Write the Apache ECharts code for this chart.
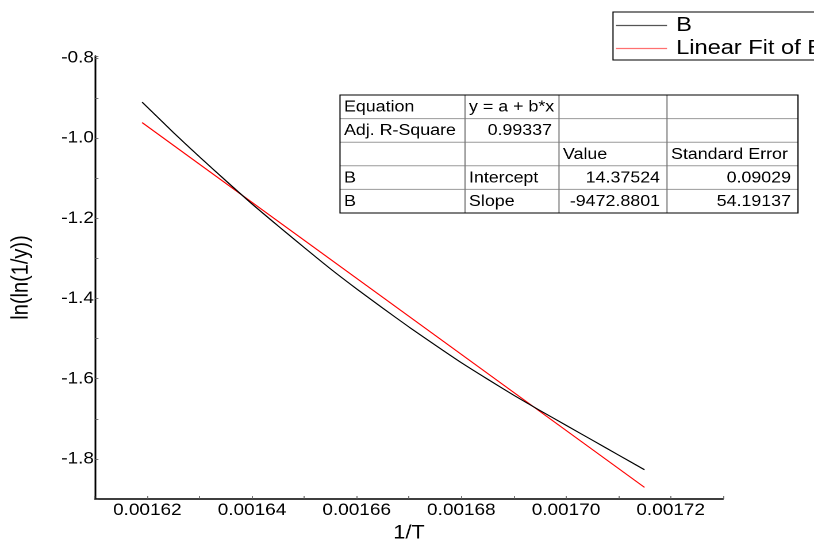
<!DOCTYPE html>
<html>
<head>
<meta charset="utf-8">
<script src="https://cdn.jsdelivr.net/npm/echarts@6.0.0/dist/echarts.min.js"></script>
<style>
html,body{margin:0;padding:0;background:#fff;overflow:hidden;width:814px;height:542px;}
#chart{width:708px;height:542px;transform:scaleX(1.1497);transform-origin:0 0;}
</style>
</head>
<body>
<div id="chart"></div>
<script>
// ---- data ----
const xB = [0.001619, 0.001625, 0.00163, 0.001635, 0.00164, 0.001645, 0.00165, 0.001655, 0.00166, 0.001665,
            0.00167, 0.001675, 0.00168, 0.001685, 0.00169, 0.001695, 0.0017, 0.001705, 0.00171, 0.001715];
const yB = [-0.910, -0.986, -1.047, -1.106, -1.164, -1.219, -1.273, -1.326, -1.376, -1.424,
            -1.471, -1.516, -1.560, -1.601, -1.641, -1.679, -1.716, -1.753, -1.790, -1.827];
const xFit = [0.001619, 0.001715];
const yFit = [-0.961, -1.871];
const xTickLabels = ['0.00162', '0.00164', '0.00166', '0.00168', '0.00170', '0.00172'];
const yTickLabels = ['-0.8', '-1.0', '-1.2', '-1.4', '-1.6', '-1.8'];
const seriesNames = ['B', 'Linear Fit of B'];
const tableRows = [
  ['Equation', 'y = a + b*x', '', ''],
  ['Adj. R-Square', '0.99337', '', ''],
  ['', '', 'Value', 'Standard Error'],
  ['B', 'Intercept', '14.37524', '0.09029'],
  ['B', 'Slope', '-9472.8801', '54.19137']
];

// ---- layout (CSS px are divided by the horizontal stretch S) ----
const S = 814 / 708;
const FONT = "'Liberation Sans', Arial, sans-serif";
const colEdges = [340, 465, 559, 667, 798].map(v => v / S);
const tableTop = 95, rowH = 23.6;

const graphics = [];
// legend frame (runs off the right edge, as in the reference)
graphics.push({type: 'rect', shape: {x: 613 / S, y: 12, width: 300, height: 48},
  style: {fill: '#fff', stroke: '#000', lineWidth: 1}, z: 1});
const tW = colEdges[4] - colEdges[0], tH = rowH * tableRows.length;
graphics.push({type: 'rect', shape: {x: colEdges[0], y: tableTop, width: tW, height: tH},
  style: {fill: '#fff', stroke: null}, z: 10});
for (let r = 1; r < tableRows.length; r++) {
  graphics.push({type: 'line', shape: {x1: colEdges[0], y1: tableTop + r * rowH, x2: colEdges[4], y2: tableTop + r * rowH},
    style: {stroke: '#9a9a9a', lineWidth: 1}, z: 11});
}
for (let c = 1; c < 4; c++) {
  graphics.push({type: 'line', shape: {x1: colEdges[c], y1: tableTop, x2: colEdges[c], y2: tableTop + tH},
    style: {stroke: '#777', lineWidth: 1}, z: 11});
}
graphics.push({type: 'rect', shape: {x: colEdges[0], y: tableTop, width: tW, height: tH},
  style: {fill: null, stroke: '#000', lineWidth: 1}, z: 12});
const isNum = s => /^-?[\d.]+$/.test(s);
tableRows.forEach((row, r) => {
  row.forEach((txt, c) => {
    if (!txt) return;
    const right = isNum(txt);
    graphics.push({type: 'text', z: 13,
      style: {text: txt, x: right ? colEdges[c + 1] - 7 / S : colEdges[c] + 4 / S,
        y: tableTop + r * rowH + rowH / 2 + 0.5, align: right ? 'right' : 'left', verticalAlign: 'middle',
        font: '15.5px ' + FONT, fill: '#000'}});
  });
});

const chart = echarts.init(document.getElementById('chart'), null, {devicePixelRatio: 2});
chart.setOption({
  backgroundColor: '#fff',
  animation: false,
  grid: {left: 95 / S, right: 708 - 723 / S, top: 56, bottom: 43, outerBoundsMode: 'none'},
  xAxis: {
    type: 'value', min: 0.00161, max: 0.00173, interval: 0.00001,
    name: '1/T', nameLocation: 'middle', nameGap: 20,
    nameTextStyle: {fontFamily: FONT, fontSize: 19, color: '#000'},
    axisLine: {show: true, onZero: false, lineStyle: {color: '#000', width: 1.5}},
    axisTick: {show: true, inside: true, length: 3, lineStyle: {color: '#555', width: 0.8}},
    axisLabel: {
      color: '#000', fontFamily: FONT, fontSize: 16.5, margin: 3,
      formatter: v => xTickLabels.find(t => Math.abs(parseFloat(t) - v) < 1e-9) || ''
    },
    splitLine: {show: false}
  },
  yAxis: {
    type: 'value', min: -1.9, max: -0.795, interval: 0.1,
    name: 'ln(ln(1/y))', nameLocation: 'middle', nameGap: 54, nameRotate: 90,
    nameTextStyle: {fontFamily: FONT, fontSize: 20, color: '#000'},
    axisLine: {show: true, onZero: false, lineStyle: {color: '#000', width: 1.5}},
    axisTick: {show: true, inside: true, length: 3, lineStyle: {color: '#555', width: 0.8}},
    axisLabel: {
      color: '#000', fontFamily: FONT, fontSize: 16.5, margin: 1,
      formatter: v => yTickLabels.find(t => Math.abs(parseFloat(t) - v) < 1e-9) || ''
    },
    splitLine: {show: false}
  },
  legend: {
    left: 613 / S, top: 12, orient: 'vertical', z: 5,
    padding: [3, 0, 3, 3 / S], itemGap: 2, itemWidth: 51 / S, itemHeight: 1.2,
    borderWidth: 0,
    icon: 'rect',
    textStyle: {fontFamily: FONT, fontSize: 20.5, color: '#000', lineHeight: 21, padding: [0, 0, 0, 3]},
    data: [
      {name: seriesNames[0], itemStyle: {color: '#555'}},
      {name: seriesNames[1], itemStyle: {color: '#ff7070'}}
    ]
  },
  series: [
    {name: seriesNames[0], type: 'line', data: xB.map((x, i) => [x, yB[i]]), showSymbol: false, smooth: 0.2,
      lineStyle: {color: '#000', width: 1.1}, itemStyle: {color: '#000'}, z: 3},
    {name: seriesNames[1], type: 'line', data: xFit.map((x, i) => [x, yFit[i]]), showSymbol: false,
      lineStyle: {color: '#ff0000', width: 1.1}, itemStyle: {color: '#ff0000'}, z: 2}
  ],
  graphic: graphics
});
</script>
</body>
</html>
